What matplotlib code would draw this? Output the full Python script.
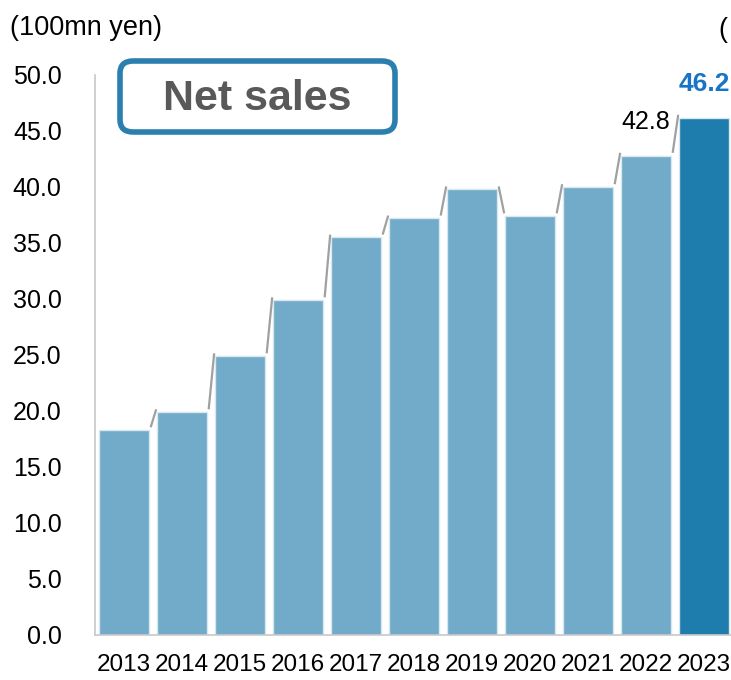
import matplotlib.pyplot as plt
from matplotlib.patches import FancyBboxPatch

years = ["2013", "2014", "2015", "2016", "2017", "2018", "2019", "2020", "2021", "2022", "2023"]
sales = [18.3, 19.9, 24.9, 29.9, 35.5, 37.2, 39.8, 37.4, 40.0, 42.8, 46.2]
yticks = [0, 5, 10, 15, 20, 25, 30, 35, 40, 45, 50]

plt.rcParams['font.family'] = ['Liberation Sans', 'DejaVu Sans']

fig = plt.figure(figsize=(7.31, 6.80), dpi=100)
ax = fig.add_axes([95 / 731, 1 - 635 / 680, 638 / 731, 560 / 680])

x = list(range(len(years)))
w = 0.85
colors = ["#72abc9"] * (len(years) - 1) + ["#1f7dad"]
ax.bar(x, sales, width=w, color=colors, edgecolor="#d8e8f1", linewidth=1.0, zorder=2)

# thin grey connectors between bar tops
off = 0.25
for i in range(len(sales) - 1):
    x0 = i + w / 2 + 0.035
    x1 = i + 1 - w / 2 - 0.02
    ax.plot([x0, x1], [sales[i] + off, sales[i + 1] + off], color="#a0a0a0", lw=1.6,
            solid_capstyle="butt", zorder=3)

ax.set_xlim(-0.5, 10.5)
ax.set_ylim(0, 50)
ax.set_yticks(yticks)
ax.set_yticklabels([f"{v:.1f}" for v in yticks], fontsize=18)
ax.set_xticks(x)
ax.set_xticklabels(years, fontsize=17.5)
ax.tick_params(axis="y", length=0, pad=24)
ax.tick_params(axis="x", length=0, pad=14)
for s in ["top", "right"]:
    ax.spines[s].set_visible(False)
for s in ["left", "bottom"]:
    ax.spines[s].set_color("#c8c8c8")
    ax.spines[s].set_linewidth(1.2)

# value labels
ax.text(9, sales[9] + 1.9, f"{sales[9]:.1f}", ha="center", va="bottom", fontsize=18, color="black")
ax.text(10, sales[10] + 1.9, f"{sales[10]:.1f}", ha="center", va="bottom", fontsize=19,
        fontweight="bold", color="#1874c4")

# unit and stray paren
fig.text(10 / 731, 1 - 28 / 680, "(100mn yen)", ha="left", va="center", fontsize=19.5)
fig.text(718 / 731, 1 - 30 / 680, "(", ha="left", va="center", fontsize=19.5)

# title box
box = FancyBboxPatch((120 / 731, 1 - 132 / 680), 275 / 731, 71 / 680,
                     boxstyle="round,pad=0,rounding_size=0.018", transform=fig.transFigure,
                     facecolor="white", edgecolor="#2a7fae", linewidth=4, zorder=5)
fig.patches.append(box)
fig.text(257 / 731, 1 - 99 / 680, "Net sales", ha="center", va="center", fontsize=31,
         fontweight="bold", color="#595959", zorder=6)

fig.savefig("out.png", dpi=100)
